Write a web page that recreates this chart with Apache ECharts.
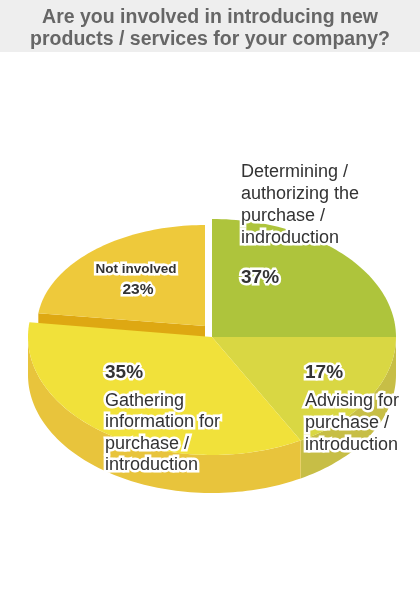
<!DOCTYPE html>
<html><head><meta charset="utf-8">
<style>html,body{margin:0;padding:0;background:#fff}#c{width:420px;height:600px}</style>
<script src="https://cdn.jsdelivr.net/npm/echarts@6/dist/echarts.min.js"></script>
</head><body><div id="c"></div>
<script>
// ---- data ----
const titleText = 'Are you involved in introducing new\nproducts / services for your company?';
const categories = [
  'Determining /\nauthorizing the\npurchase /\nindroduction',
  'Advising for\npurchase /\nintroduction',
  'Gathering\ninformation for\npurchase /\nintroduction',
  'Not involved'
];
const percentLabels = [37, 17, 35, 23];   // percentages printed on the chart
const drawnShare = [25, 17, 35, 23];      // share of the disc each slice covers in the picture

// ---- style / layout ----
const FONT = '"Liberation Sans", Arial, sans-serif';
const PIE = {cx: 212, cy: 337, rx: 184, ry: 118, depth: 38, start: 90};
const sliceGeo = [
  {dx: 0, dy: 0, sx: 1, sy: 1, z: 10},
  {dx: 0, dy: 0, sx: 1, sy: 1, z: 20},
  {dx: 0, dy: 0, sx: 1, sy: 1, z: 30},
  {dx: -7, dy: -11, sx: 168 / 184, sy: 101 / 118, z: 0}
];
const topColors = ['#aec43c', '#d9d743', '#f1e13a', '#eec93b'];
const sideColors = ['#9db232', '#c7be46', '#e8c43c', '#dea812'];
const labelLayout = [
  {nameX: 241, nameY: 161, nameLH: 22, nameSize: 18, nameWeight: 'normal', nameAlign: 'left',
   pctX: 241, pctY: 278, pctSize: 19, pctAlign: 'left'},
  {nameX: 305, nameY: 390, nameLH: 22, nameSize: 18, nameWeight: 'normal', nameAlign: 'left',
   pctX: 305, pctY: 373, pctSize: 19, pctAlign: 'left'},
  {nameX: 105, nameY: 390, nameLH: 21.5, nameSize: 18, nameWeight: 'normal', nameAlign: 'left',
   pctX: 105, pctY: 373, pctSize: 19, pctAlign: 'left'},
  {nameX: 136, nameY: 261, nameLH: 16, nameSize: 13.5, nameWeight: 'bold', nameAlign: 'center',
   pctX: 138, pctY: 290, pctSize: 15.5, pctAlign: 'center'}
];

function haloText(x, y, text, size, weight, lh, align, vAlign) {
  const base = {text: text, fontFamily: FONT, fontSize: size, fontWeight: weight,
    align: align, verticalAlign: vAlign};
  if (lh) base.lineHeight = lh;
  return [
    {type: 'text', z2: 200, x: x, y: y, style: Object.assign({}, base,
      {fill: '#ffffff', stroke: '#ffffff', lineWidth: 5, lineJoin: 'round'})},
    {type: 'text', z2: 201, x: x, y: y, style: Object.assign({}, base, {fill: '#333333'})}
  ];
}

function renderItem(params, api) {
  const i = params.dataIndex;
  const total = drawnShare.reduce((a, b) => a + b, 0);
  let before = 0;
  for (let k = 0; k < i; k++) before += drawnShare[k];
  const share = api.value(0);
  const a0 = PIE.start - before / total * 360;      // start angle (clockwise)
  const a1 = a0 - share / total * 360;               // end angle
  const g = sliceGeo[i];
  const cx = PIE.cx + g.dx, cy = PIE.cy + g.dy, rx = PIE.rx * g.sx, ry = PIE.ry * g.sy, d = PIE.depth;
  const rad = t => t * Math.PI / 180;
  const pt = (t, off) => [cx + rx * Math.cos(rad(t)), cy - ry * Math.sin(rad(t)) + (off || 0)];
  const arc = (from, to, off) => {
    const n = Math.max(2, Math.ceil(Math.abs(to - from) / 1.5));
    const pts = [];
    for (let k = 0; k <= n; k++) pts.push(pt(from + (to - from) * k / n, off));
    return pts;
  };
  const children = [];
  // radial wall at the start edge (visible when it faces the viewer)
  if (Math.cos(rad(a0)) < -0.01) {
    const p = pt(a0, 0);
    children.push({type: 'polygon', z2: g.z, shape: {points: [[cx, cy], p, [p[0], p[1] + d], [cx, cy + d]]},
      style: {fill: sideColors[i]}});
  }
  if (Math.cos(rad(a1)) > 0.01 && g.dx !== 0) {
    const p = pt(a1, 0);
    children.push({type: 'polygon', z2: g.z, shape: {points: [[cx, cy], p, [p[0], p[1] + d], [cx, cy + d]]},
      style: {fill: sideColors[i]}});
  }
  // outer front side
  [[-180, 0], [-540, -360], [180, 360]].forEach(([lo, hi]) => {
    const s = Math.max(lo, a1), e = Math.min(hi, a0);
    if (e - s > 0.01) {
      const pts = arc(s, e, 0).concat(arc(e, s, d));
      children.push({type: 'polygon', z2: g.z + 1, shape: {points: pts}, style: {fill: sideColors[i]}});
    }
  });
  // top face
  const topPts = [[cx, cy]].concat(arc(a0, a1, 0));
  children.push({type: 'polygon', z2: g.z + 2, shape: {points: topPts}, style: {fill: topColors[i]}});
  // labels
  const L = labelLayout[i];
  haloText(L.nameX, L.nameY, categories[i], L.nameSize, L.nameWeight, L.nameLH, L.nameAlign, 'top')
    .forEach(e => children.push(e));
  haloText(L.pctX, L.pctY, percentLabels[i] + '%', L.pctSize, 'bold', null, L.pctAlign, 'middle')
    .forEach(e => children.push(e));
  return {type: 'group', children: children};
}

const chart = echarts.init(document.getElementById('c'), null, {renderer: 'canvas'});
chart.setOption({
  backgroundColor: '#ffffff',
  animation: false,
  graphic: [{type: 'rect', z: -10, shape: {x: 0, y: 0, width: 420, height: 52}, style: {fill: '#eeeeee'}}],
  title: {
    text: titleText, left: 210, top: 7, padding: 0, textAlign: 'center',
    textStyle: {fontFamily: FONT, fontSize: 19.5, fontWeight: 'bold', color: '#666666', lineHeight: 22}
  },
  series: [{
    type: 'custom',
    coordinateSystem: 'none',
    renderItem: renderItem,
    data: drawnShare.map((v, k) => ({name: categories[k], value: [v]}))
  }]
});
</script>
</body></html>
